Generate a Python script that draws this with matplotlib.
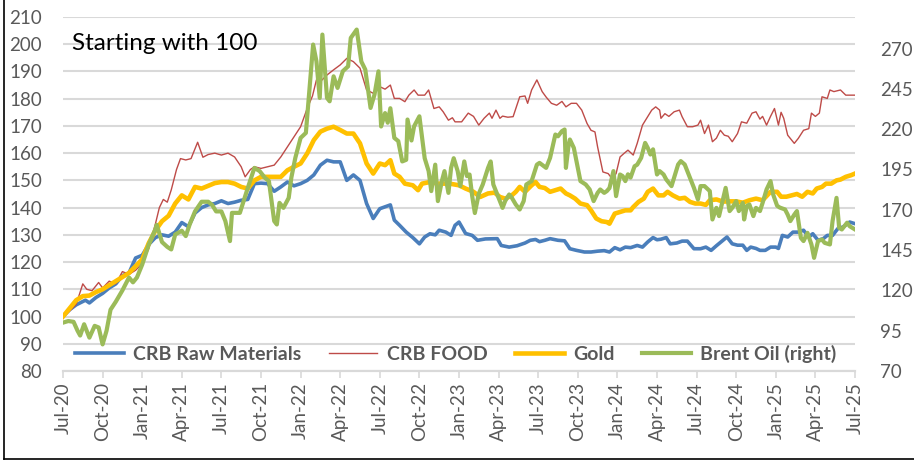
import matplotlib
matplotlib.use("Agg")
import matplotlib.pyplot as plt
from matplotlib.lines import Line2D
import numpy as np

plt.rcParams['font.family'] = ['Lato', 'DejaVu Sans']

# months since Jul-2020
tick_labels = ["Jul-20", "Oct-20", "Jan-21", "Apr-21", "Jul-21", "Oct-21", "Jan-22",
               "Apr-22", "Jul-22", "Oct-22", "Jan-23", "Apr-23", "Jul-23", "Oct-23",
               "Jan-24", "Apr-24", "Jul-24", "Oct-24", "Jan-25", "Apr-25", "Jul-25"]
tick_months = [0, 3, 6, 9, 12, 15, 18, 21, 24, 27, 30, 33, 36, 39, 42, 45, 48, 51, 54, 57, 60]

raw_t = [0, 0.5, 1, 1.7, 2, 2.5, 3, 3.5, 4, 4.5, 5, 5.5, 6, 6.5, 7, 7.5, 8, 8.5, 9, 9.5, 10, 10.5,
         11, 11.5, 12, 12.5, 13, 13.5, 14, 14.5, 15, 15.5, 16, 16.5, 17, 17.5, 18, 18.5, 19, 19.5,
         20, 20.5, 21, 21.5, 22, 22.5, 23, 23.5, 24, 24.8, 25.1, 25.5, 26, 26.5, 27, 27.4, 27.8,
         28.2, 28.5, 29, 29.4, 29.7, 30.0, 30.5, 31, 31.4, 32, 32.9, 33.2, 33.8, 34.4, 35, 35.4,
         35.8, 36.1, 36.5, 36.9, 37.5, 38, 38.4, 38.9, 39.5, 40.0, 40.5, 41.0, 41.4, 41.8, 42.2,
         42.6, 43.0, 43.5, 43.9, 44.3, 44.7, 45.0, 45.3, 45.7, 46.0, 46.5, 46.9, 47.3, 47.8, 48.3,
         48.7, 49.1, 49.5, 50.0, 50.3, 50.7, 51.1, 51.5, 51.8, 52.1, 52.5, 52.8, 53.2, 53.6, 54.0,
         54.2, 54.5, 54.9, 55.3, 55.7, 56.1, 56.5, 56.8, 57.2, 57.6, 57.9, 58.3, 58.7, 59.1, 59.6, 60]
raw_v = [100, 102.5, 104.3, 106, 105, 107, 108.5, 110.5, 112, 115, 116, 121.5, 122.5, 126.5, 129,
         130, 129.5, 131, 134.5, 133, 138, 140, 141, 141.5, 142.5, 141.5, 142, 142.7, 143, 148.8,
         149, 148.8, 146, 147.6, 149.4, 148, 148.8, 150, 152, 155.6, 157.4, 156.8, 156.8, 150, 152,
         150, 141.5, 136, 139.6, 141, 135.4, 133.5, 131, 129, 126.7, 129.2, 130.4, 130, 131.7, 131,
         129.8, 133.5, 134.7, 130.5, 129.8, 128, 128.5, 128.6, 126.1, 125.5, 126, 127, 128, 128.3,
         127.5, 128, 128.6, 128, 127.8, 124.9, 124.3, 123.7, 123.7, 124, 124.2, 123.7, 125.3, 124.5,
         125.5, 125.3, 126.1, 125.5, 127.4, 129, 128.2, 128.4, 129, 126.7, 127, 127.7, 127.7, 124.9,
         124.9, 125.5, 124.3, 126, 128, 129.2, 126.7, 126.2, 126.2, 124.3, 125.5, 125, 124.3, 124.3,
         125.5, 125.5, 125, 129.8, 129.2, 131, 131, 131.7, 129.2, 130.4, 128, 128.6, 129.8, 129.8,
         132.3, 132.9, 134.7, 134.1]

food_t = [0, 0.5, 1, 1.5, 1.8, 2.2, 2.7, 3, 3.5, 4, 4.5, 5, 5.5, 6, 6.5, 7, 7.3, 7.6, 7.9, 8.2, 8.6,
          8.9, 9.3, 9.7, 10.2, 10.6, 11, 11.5, 12, 12.5, 13, 13.5, 13.8, 14.2, 14.5, 15, 15.5, 16,
          16.5, 17, 17.5, 18, 18.5, 18.9, 19.2, 19.5, 20, 20.5, 21, 21.5, 22, 22.5, 23, 23.5, 24,
          24.4, 24.8, 25.1, 25.5, 25.9, 26.2, 26.6, 26.9, 27.4, 27.7, 28.1, 28.5, 28.8, 29.2, 29.5,
          29.7, 30.2, 30.7, 31.1, 31.5, 31.9, 32.3, 32.5, 32.8, 33.1, 33.3, 33.7, 34.1, 34.6, 35.0,
          35.2, 35.5, 35.9, 36.3, 36.6, 37.0, 37.4, 37.8, 38.1, 38.5, 38.9, 39.3, 39.7, 40.0, 40.3,
          40.5, 40.9, 41.3, 41.6, 41.9, 42.2, 42.5, 42.8, 43.2, 43.5, 43.9, 44.3, 44.6, 44.9, 45.2,
          45.3, 45.6, 45.9, 46.3, 46.7, 46.9, 47.3, 47.7, 48.1, 48.3, 48.6, 48.9, 49.2, 49.5, 49.8,
          50.1, 50.4, 50.7, 51.1, 51.4, 51.8, 52.2, 52.5, 52.8, 53.0, 53.3, 53.6, 53.9, 54.2, 54.4,
          54.6, 54.9, 55.1, 55.4, 55.7, 56.1, 56.5, 56.7, 57.0, 57.3, 57.5, 57.9, 58.1, 58.4, 58.9,
          59.3, 60]
food_v = [100, 102, 104.5, 112, 110, 109.5, 112.5, 110.5, 113, 112, 116.5, 115.5, 117, 119.5, 125,
          134, 140, 143, 142, 146.5, 154, 158, 157.5, 158, 164, 158.5, 159.5, 160, 159.3, 160, 158.6,
          155, 151.3, 154, 155, 154.4, 155, 155.6, 158.6, 162.3, 166, 169.7, 176.4, 181, 186.9, 186.3,
          188.7, 190.6, 192.4, 194.8, 193.6, 191.2, 183.2, 182, 184.4, 183.5, 185, 180.1, 180.1,
          178.9, 181.3, 183.2, 181.3, 181.3, 183.2, 176.4, 177, 175.2, 172.1, 173, 171.5, 171.5,
          174.7, 173.5, 170.3, 172.8, 174.7, 172.8, 175.8, 172.8, 173.6, 173.2, 173.4, 180.7, 181,
          178.3, 183.2, 186.9, 182.6, 180.6, 178.3, 177.6, 179, 177, 178.3, 178.3, 175.8, 170.9,
          168.4, 167.8, 162.3, 153.1, 152.5, 150.6, 152.5, 158.6, 159.9, 161.1, 159.3, 163.6, 170.3,
          173.4, 175.8, 177, 175.8, 172.8, 174.5, 173.5, 175.2, 175.8, 173.4, 169.7, 169.7, 170.3,
          172.1, 167.2, 170.3, 164.2, 165.5, 168.4, 166.6, 166.2, 164.2, 167.2, 171.5, 171, 174.7,
          175.2, 172.5, 173.5, 170.3, 173.5, 176.4, 170.3, 175, 172.8, 166.6, 165.4, 163.6, 165.4,
          168.4, 169, 174.7, 173.5, 174.7, 180.7, 180.1, 183.2, 182.6, 183.2, 181.3, 181.3]

gold_t = [0, 0.5, 1, 1.5, 2, 2.5, 3, 3.5, 4, 4.5, 5, 5.5, 6, 6.5, 7, 7.5, 8, 8.5, 9, 9.5, 10, 10.5,
          11, 11.5, 12, 12.5, 13, 13.5, 14, 14.5, 15, 15.5, 16, 16.5, 17, 17.5, 18, 18.5, 19, 19.5,
          20, 20.5, 21, 21.5, 22, 22.5, 23, 23.5, 24, 24.4, 24.8, 25.1, 25.5, 25.9, 26.5, 26.9, 27.2,
          27.8, 28.4, 29.3, 30.0, 30.5, 31.1, 31.6, 32.2, 32.7, 33.1, 33.5, 34.0, 34.3, 34.6, 35.0,
          35.5, 35.8, 36.1, 36.5, 36.9, 37.3, 37.7, 38.1, 38.4, 38.8, 39.2, 39.7, 40.0, 40.4, 40.8,
          41.2, 41.4, 41.8, 42.2, 42.6, 43.0, 43.2, 43.6, 44.0, 44.3, 44.7, 45.1, 45.5, 45.8, 46.2,
          46.7, 47.1, 47.5, 47.9, 48.3, 48.7, 49.0, 49.5, 50.0, 50.5, 51.0, 51.5, 52.0, 52.5, 53.0,
          53.6, 54.1, 54.4, 54.8, 55.2, 55.6, 56.0, 56.4, 56.8, 57.1, 57.5, 57.8, 58.2, 58.6, 58.9,
          59.3, 59.7, 60]
gold_v = [100, 103, 106, 107.5, 107.7, 109, 110, 111.5, 113, 114.5, 116, 118.5, 121, 127, 131.6, 135,
          137, 141.5, 144.5, 143, 147.6, 147, 148, 149, 149.4, 149.4, 148.8, 147.6, 147, 150, 151.3,
          151.3, 151.3, 151.3, 153.7, 155, 156.2, 159.9, 164.8, 167.9, 169, 169.7, 168.5, 167.2,
          167.2, 163.6, 156.2, 152.5, 156.2, 155.6, 157.4, 152.5, 151.3, 148.8, 148.2, 146.4, 148.8,
          149.4, 148.8, 148.8, 148.2, 147, 145.8, 143.9, 145.2, 145.5, 143.9, 143.3, 144.5, 145.8,
          147.6, 145.8, 148.2, 149.4, 147.6, 147.2, 145.8, 146.4, 147, 145.2, 144.5, 143.3, 141.5,
          140.9, 139, 136, 135, 134.7, 134.1, 137.8, 138.4, 139, 139, 140.2, 142.1, 143.3, 145.8, 147,
          144.5, 144.5, 145.8, 144.5, 143.3, 143.6, 142.1, 141.5, 141.5, 141, 142.7, 143, 142.2,
          142.3, 142.3, 141.8, 142.7, 143.3, 142.7, 145.8, 145.8, 144, 144, 144.5, 145, 144, 145.8,
          145.2, 147, 147.6, 148.8, 148.8, 150, 150.3, 151.3, 151.9, 152.5]

oil_t = [0, 0.4, 0.8, 1.1, 1.3, 1.6, 2.0, 2.4, 2.7, 3.0, 3.3, 3.6, 4.0, 4.5, 5.0, 5.3, 5.6, 6.0, 6.5,
         7.0, 7.1, 7.5, 7.9, 8.2, 8.5, 9.0, 9.3, 9.6, 10.0, 10.5, 11.0, 11.3, 11.6, 12.0, 12.3, 12.65,
         12.8, 13.4, 14.0, 14.5, 14.9, 15.3, 15.6, 16.0, 16.2, 16.4, 16.7, 17.1, 17.3, 17.6, 18.0,
         18.4, 18.95, 19.2, 19.45, 19.65, 20.0, 20.2, 20.5, 20.8, 21.2, 21.6, 21.8, 22.25, 22.6, 22.9,
         23.3, 23.6, 23.9, 24.1, 24.4, 24.6, 24.8, 25.1, 25.4, 25.7, 26.0, 26.1, 26.4, 26.6, 27.0,
         27.4, 27.7, 27.9, 28.2, 28.4, 28.7, 28.9, 29.2, 29.4, 29.6, 29.9, 30.1, 30.4, 30.6, 30.8,
         31.0, 31.2, 31.5, 31.8, 32.2, 32.4, 32.6, 32.8, 33.3, 33.5, 33.8, 34.0, 34.3, 34.6, 34.9,
         35.1, 35.5, 35.9, 36.1, 36.6, 36.9, 37.3, 37.5, 37.8, 38.0, 38.1, 38.3, 38.4, 38.7, 39.0,
         39.2, 39.6, 39.9, 40.2, 40.5, 40.7, 41.0, 41.2, 41.4, 41.7, 41.9, 42.2, 42.4, 42.6, 42.8,
         43.0, 43.3, 43.5, 43.8, 44.1, 44.3, 44.5, 44.7, 45.0, 45.2, 45.5, 45.7, 46.1, 46.3, 46.6,
         46.8, 47.1, 47.3, 47.6, 47.8, 48.1, 48.3, 48.6, 49.0, 49.2, 49.5, 49.7, 50.0, 50.2, 50.5,
         50.7, 51.0, 51.2, 51.5, 51.6, 51.8, 52.0, 52.3, 52.5, 52.8, 53.0, 53.3, 53.6, 53.8, 54.1,
         54.3, 54.7, 54.9, 55.1, 55.4, 55.6, 55.9, 56.1, 56.4, 56.7, 56.9, 57.2, 57.5, 57.7, 58.1,
         58.3, 58.6, 58.8, 59.0, 59.4, 59.6, 59.8, 60.0]
oil_v = [100, 101, 100.5, 95, 92, 99, 90.7, 98, 97, 86.5, 95, 108, 113, 120, 128, 125, 128, 136,
         148.5, 158, 160.7, 150, 147, 145.4, 154.7, 157, 153.7, 161, 169, 175, 175, 173, 169, 169,
         163, 150.6, 168.1, 168.1, 183.6, 196, 194, 189.8, 187.8, 163, 160.9, 174.3, 171.2, 177.4,
         190, 202.2, 214.6, 217.7, 272.5, 262.1, 239.4, 278.7, 239.4, 237.3, 252.8, 245.6, 256, 259,
         276.6, 281.8, 262, 257, 233.2, 241.5, 255.9, 221.7, 230, 224, 233, 214.6, 212.6, 200, 201,
         226, 213, 221.8, 228, 202, 194, 181.6, 198, 175.4, 187.8, 194, 180.5, 196, 202, 194, 184.7,
         200, 190.9, 191.9, 178.5, 168, 180, 185.7, 196, 200, 185.7, 181.6, 171.2, 175.5, 179.5,
         177.5, 173.3, 170.2, 175.4, 185.7, 187.8, 198, 199.1, 196, 202.2, 216.7, 215.6, 218.8,
         219.8, 196, 210, 213.6, 208.4, 196, 187.8, 185.7, 182.6, 175.4, 180.5, 182.6, 180.5, 181.6,
         183.5, 194, 178.5, 191.9, 190.9, 187.8, 192, 190, 197, 198, 202.2, 211.5, 208.4, 204.3,
         207.5, 191.9, 194, 191.9, 188.8, 184.7, 190, 198.1, 200.2, 198.1, 194, 187.8, 183.6, 176.4,
         184.7, 184.7, 181.6, 164, 171.2, 166.1, 176.5, 183.6, 169.2, 171.2, 175.4, 169.2, 174.3,
         164, 172.3, 173.3, 166.1, 171.2, 169.2, 174.3, 182.6, 187.8, 179.5, 172.5, 171.4, 170.2,
         167, 163, 167, 169.2, 152.6, 150.6, 155.7, 148.5, 140.2, 150.6, 151.6, 149.5, 148.5, 163,
         177.4, 158.8, 157.8, 162, 159.8, 158.8, 157.8]

series_names = ["CRB Raw Materials", "CRB FOOD", "Gold", "Brent Oil (right)"]
colors = ["#4A7EBB", "#BE4B48", "#FFC000", "#9BBB59"]

W, H = 914, 463
fig = plt.figure(figsize=(W / 100, H / 100), dpi=100)
ax = fig.add_axes([63 / W, 1 - 371 / H, (855 - 63) / W, (371 - 17) / H])
ax2 = ax.twinx()

l1, = ax.plot(raw_t, raw_v, color=colors[0], lw=2.6, solid_joinstyle='round', zorder=3)
l2, = ax.plot(food_t, food_v, color=colors[1], lw=1.0, zorder=4)
l3, = ax.plot(gold_t, gold_v, color=colors[2], lw=3.3, solid_joinstyle='round', zorder=5)
l4, = ax2.plot(oil_t, oil_v, color=colors[3], lw=3.0, solid_joinstyle='round', zorder=3)

ax.set_xlim(0, 60)
ax.set_ylim(80, 210)
ax2.set_ylim(70, 289.6)
ax.set_yticks(np.arange(80, 211, 10))
ax2.set_yticks(np.arange(70, 271, 25))
ax.set_xticks(tick_months)
ax.set_xticklabels(tick_labels, rotation=90)

grid_c = "#D9D9D9"
ax.grid(axis='y', color=grid_c, lw=1.5)
ax.set_axisbelow(True)
for a in (ax, ax2):
    for s in ('left', 'right', 'top'):
        a.spines[s].set_visible(False)
    a.spines['bottom'].set_color(grid_c)
    a.spines['bottom'].set_linewidth(1.5)

lab_c = "#595959"
ax.tick_params(axis='y', length=0, pad=15, labelsize=13.5, labelcolor=lab_c)
ax2.tick_params(axis='y', length=0, pad=18, labelsize=13.5, labelcolor=lab_c)
ax.tick_params(axis='x', length=5, width=1.2, color=grid_c, pad=3, labelsize=13.5, labelcolor=lab_c)
for lab in ax2.get_yticklabels():
    lab.set_horizontalalignment('left')

ax.text(0.011, 0.925, "Starting with 100", transform=ax.transAxes, fontsize=17.5,
        color='black', va='center', ha='left')

leg = ax.legend([l1, l2, l3, l4], series_names, loc='center', bbox_to_anchor=(0.496, 0.048),
                ncol=4, frameon=False, handlelength=2.5, handletextpad=0.5,
                columnspacing=1.4, prop={'weight': 'bold', 'size': 14})
for t in leg.get_texts():
    t.set_color(lab_c)

# outer frame lines (left and bottom)
fig.add_artist(Line2D([3.5 / W, 3.5 / W], [1 - 458.5 / H, 1], color='black', lw=1.2,
                      transform=fig.transFigure))
fig.add_artist(Line2D([3.5 / W, 1], [1 - 458.5 / H, 1 - 458.5 / H], color='black', lw=1.2,
                      transform=fig.transFigure))

fig.savefig("out.png", dpi=100)
